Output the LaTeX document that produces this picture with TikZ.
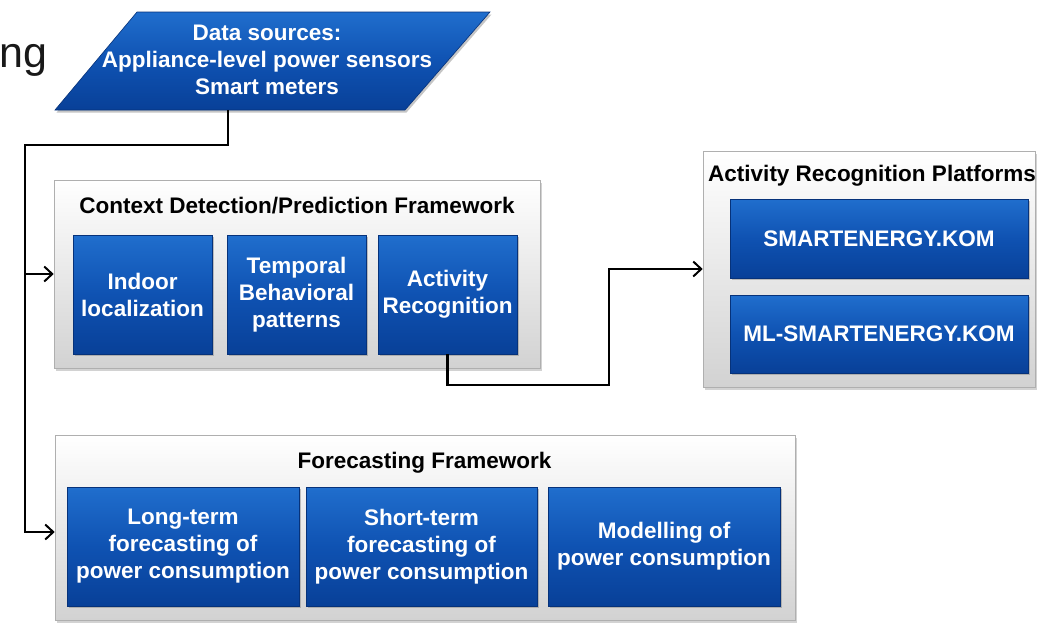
\documentclass[tikz,border=0pt]{standalone}
\usepackage{fontspec}
\setmainfont{Liberation Sans}
\usetikzlibrary{shadows,arrows.meta}
\definecolor{bluetop}{RGB}{32,110,205}
\definecolor{bluemid}{RGB}{15,82,178}
\definecolor{bluebot}{RGB}{8,64,152}
\definecolor{blueedge}{RGB}{6,50,122}
\definecolor{graybot}{RGB}{210,210,210}
\definecolor{grayedge}{RGB}{175,175,175}
\tikzset{
  bluebox/.style={top color=bluetop, bottom color=bluebot, middle color=bluemid, draw=blueedge, line width=0.6pt,
    inner sep=0pt, align=center, text=white,
    font=\fontsize{22.5}{27}\selectfont\bfseries,
    drop shadow={shadow xshift=1.5pt, shadow yshift=-2pt, opacity=0.45}},
  container/.style={top color=white, bottom color=graybot, draw=grayedge, line width=0.6pt, inner sep=0pt,
    drop shadow={shadow xshift=2pt, shadow yshift=-2.5pt, opacity=0.35}},
  titletext/.style={anchor=base, inner sep=0pt, font=\fontsize{22.5}{27}\selectfont\bfseries, text=black},
  conn/.style={line width=2.2pt, draw=black, line join=miter},
  arr/.style={conn, -{Straight Barb[length=8pt,width=15pt,line width=2pt]}}
}
\begin{document}
\begin{tikzpicture}[x=1pt,y=-1pt]
\useasboundingbox (0,0) rectangle (1039,622);
\fill[white] (0,0) rectangle (1039,622);

% partial title word
\node[anchor=base west, inner sep=0pt, font=\fontsize{43}{50}\selectfont, text={rgb,255:red,25;green,25;blue,25}] (ng) at (-1,67) {ng};

% data sources parallelogram
\path[top color=bluetop, bottom color=bluebot, middle color=bluemid, draw=blueedge, line width=0.6pt,
  drop shadow={shadow xshift=1.5pt, shadow yshift=-2.5pt, opacity=0.45}]
  (137,12) -- (490,12) -- (405,110) -- (55,110) -- cycle;
\node[align=center, inner sep=0pt, text=white, font=\fontsize{22.5}{27}\selectfont\bfseries] (ds) at (267,60)
  {Data sources:\\Appliance-level power sensors\\Smart meters};
\coordinate (dsout) at (228,110);

% context framework
\node[container, minimum width=486pt, minimum height=188pt] (ctx) at (297,274) {};
\node[titletext] (ctxt) at (297,213) {Context Detection/Prediction Framework};
\node[bluebox, minimum width=139pt, minimum height=119pt] (il) at (142.5,294.5) {Indoor\\localization};
\node[bluebox, minimum width=139pt, minimum height=119pt] (tb) at (296.5,294.5) {Temporal\\Behavioral\\patterns};
\node[bluebox, minimum width=139pt, minimum height=119pt] (ar) at (447.5,294.5) {Activity\\Recognition};

% platforms
\node[container, minimum width=332pt, minimum height=236pt] (plat) at (869,269) {};
\node[titletext] (platt) at (872,181) {Activity Recognition Platforms};
\node[bluebox, minimum width=298pt, minimum height=79pt] (se) at (879,238.5) {SMARTENERGY.KOM};
\node[bluebox, minimum width=298pt, minimum height=78pt] (mlse) at (879,334) {ML-SMARTENERGY.KOM};

% forecasting framework
\node[container, minimum width=740pt, minimum height=185pt] (fc) at (425,527.5) {};
\node[titletext] (fct) at (424.5,468) {Forecasting Framework};
\node[bluebox, minimum width=232pt, minimum height=119pt] (lt) at (183,546.5) {Long-term\\forecasting of\\power consumption};
\node[bluebox, minimum width=231pt, minimum height=119pt] (st) at (421.5,546.5) {Short-term\\forecasting of\\power consumption};
\node[bluebox, minimum width=232pt, minimum height=119pt] (mp) at (664,546.5) {Modelling of\\power consumption};

% connectors
\coordinate (j1) at (228,145);
\coordinate (j2) at (25,145);
\coordinate (c2) at (609,385);
\draw[arr] (dsout) -- (j1) -- (j2) |- (ctx.west);
\draw[arr] (j2) |- ([yshift=-4.5pt]fc.west);
\draw[arr] (ar.south) |- (c2) |- (plat.west);
\end{tikzpicture}
\end{document}
